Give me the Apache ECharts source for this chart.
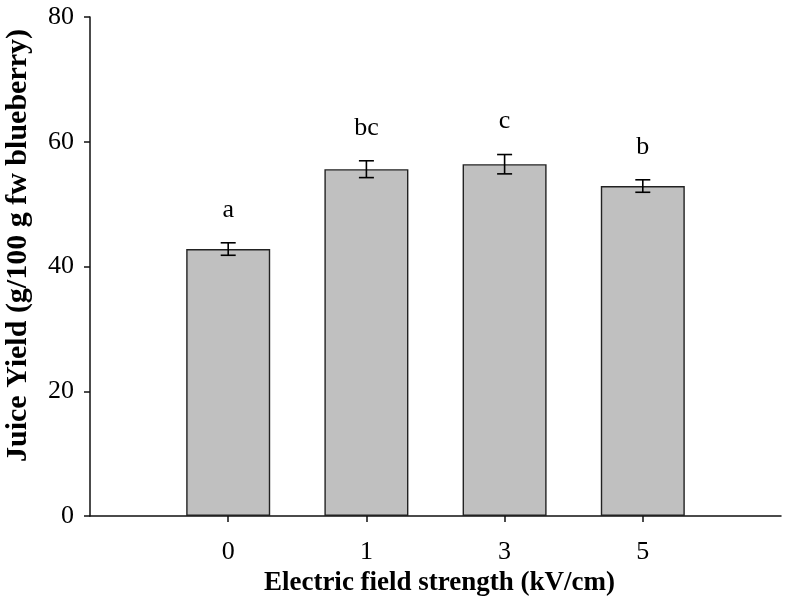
<!DOCTYPE html>
<html>
<head>
<meta charset="utf-8">
<script src="https://cdn.jsdelivr.net/npm/echarts@6/dist/echarts.min.js"></script>
<style>html,body{margin:0;padding:0;background:#fff;}#c{width:786px;height:599px;}</style>
</head>
<body>
<div id="c"></div>
<script>
const categories = ['0', '1', '3', '5'];
const values = [42.8, 55.6, 56.4, 52.9];
const errors = [1.0, 1.35, 1.55, 1.0];
const letters = ['a', 'bc', 'c', 'b'];
const yTicks = [0, 20, 40, 60, 80];

const FONT = '"Liberation Serif", "Times New Roman", serif';
const axisCats = [''].concat(categories).concat(['']);
const barData = [null].concat(values).concat([null]);
const errData = categories.map((c, i) => [i + 1, values[i], errors[i], letters[i]]);

const chart = echarts.init(document.getElementById('c'));
chart.setOption({
  animation: false,
  backgroundColor: '#fff',
  grid: { left: 90, right: 5, top: 17, bottom: 83, containLabel: false, outerBoundsMode: 'none' },
  xAxis: {
    type: 'category',
    data: axisCats,
    boundaryGap: false,
    name: 'Electric field strength (kV/cm)',
    nameLocation: 'middle',
    nameGap: 51,
    nameTextStyle: { fontFamily: FONT, fontSize: 27, fontWeight: 'bold', color: '#000', padding: [0, 0, 0, 8] },
    axisLine: { lineStyle: { color: '#111', width: 1.5 } },
    axisTick: { show: true, length: 6, inside: false, alignWithLabel: true,
      interval: (i) => i > 0 && i < axisCats.length - 1,
      lineStyle: { color: '#111', width: 1.5 } },
    axisLabel: { fontFamily: FONT, fontSize: 26, color: '#000', margin: 23,
      interval: (i) => i > 0 && i < axisCats.length - 1 },
    splitLine: { show: false }
  },
  yAxis: {
    type: 'value',
    min: yTicks[0],
    max: yTicks[yTicks.length - 1],
    interval: 20,
    name: 'Juice Yield (g/100 g fw blueberry)',
    nameLocation: 'middle',
    nameGap: 57,
    nameTextStyle: { fontFamily: FONT, fontSize: 30, fontWeight: 'bold', color: '#000', padding: [0, 0, 0, 42] },
    axisLine: { show: true, lineStyle: { color: '#111', width: 1.5 } },
    axisTick: { show: true, length: 6, inside: false, lineStyle: { color: '#111', width: 1.5 } },
    axisLabel: { fontFamily: FONT, fontSize: 26, color: '#000', margin: 16 },
    splitLine: { show: false }
  },
  series: [
    {
      type: 'bar',
      data: barData,
      barWidth: 84,
      itemStyle: { color: '#c0c0c0', borderColor: '#222', borderWidth: 1.4 }
    },
    {
      type: 'custom',
      data: errData,
      z: 10,
      renderItem: function (params, api) {
        const x = api.value(0), y = api.value(1), e = api.value(2);
        const top = api.coord([x, y + e]);
        const bot = api.coord([x, y - e]);
        const hw = 7.5;
        const st = { stroke: '#000', lineWidth: 1.6 };
        return {
          type: 'group',
          children: [
            { type: 'line', shape: { x1: top[0], y1: top[1], x2: bot[0], y2: bot[1] }, style: st },
            { type: 'line', shape: { x1: top[0] - hw, y1: top[1], x2: top[0] + hw, y2: top[1] }, style: st },
            { type: 'line', shape: { x1: bot[0] - hw, y1: bot[1], x2: bot[0] + hw, y2: bot[1] }, style: st },
            { type: 'text', style: { text: letters[params.dataIndex], x: top[0], y: top[1] - 33,
              align: 'center', verticalAlign: 'middle', font: '26px ' + FONT, fill: '#000' } }
          ]
        };
      }
    }
  ]
});
</script>
</body>
</html>
